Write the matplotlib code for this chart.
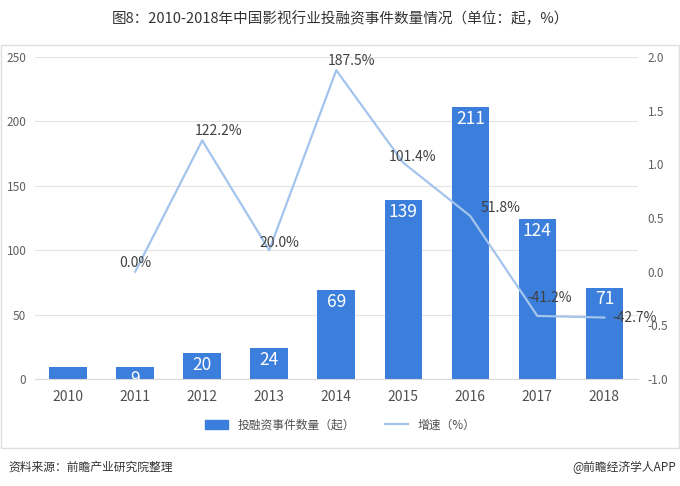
import numpy as np
import matplotlib
matplotlib.use('Agg')
import matplotlib.pyplot as plt
from matplotlib.patches import Rectangle
from matplotlib.lines import Line2D

plt.rcParams['font.family'] = ['Noto Sans CJK SC', 'DejaVu Sans']

years = ['2010', '2011', '2012', '2013', '2014', '2015', '2016', '2017', '2018']
counts = [9, 9, 20, 24, 69, 139, 211, 124, 71]
growth_years = ['2011', '2012', '2013', '2014', '2015', '2016', '2017', '2018']
growth = [0.0, 1.222, 0.200, 1.875, 1.014, 0.518, -0.412, -0.427]
growth_labels = ['0.0%', '122.2%', '20.0%', '187.5%', '101.4%', '51.8%', '-41.2%', '-42.7%']

bar_color = '#3C7EDB'
line_color = '#A3C4EC'
text_color = '#404040'

fig = plt.figure(figsize=(6.8, 4.86), dpi=100)
fig.patch.set_facecolor('white')

# outer frame of the chart
fig.patches.append(Rectangle((0.002, 1 - 448 / 486), 0.996, (448 - 45) / 486,
                             transform=fig.transFigure, fill=False,
                             edgecolor='#E0E0E0', linewidth=1.0))

ax = fig.add_axes([0.051, 0.22, 0.887, 0.663])
x = np.arange(len(years))
bars = ax.bar(x, counts, width=0.56, color=bar_color, zorder=2)
ax.set_ylim(0, 250)
ax.set_yticks(np.arange(0, 251, 50))
ax.set_xlim(-0.5, len(years) - 0.5)
ax.set_xticks(x)
ax.set_xticklabels(years, fontsize=10, color='#505050')
ax.tick_params(axis='y', labelsize=8.5, labelcolor='#606060', length=0, pad=6)
ax.tick_params(axis='x', length=0, pad=8)
ax.grid(axis='y', color='#E4E4E4', linewidth=0.8, zorder=0)
for s in ['top', 'right', 'left']:
    ax.spines[s].set_visible(False)
ax.spines['bottom'].set_color('#D9D9D9')

for i, (b, v) in enumerate(zip(bars, counts)):
    if i == 0:
        continue
    ax.text(b.get_x() + b.get_width() / 2, v - 2, str(v), ha='center', va='top',
            color='white', fontsize=12.5, zorder=4)

ax2 = ax.twinx()
gx = [years.index(y) for y in growth_years]
ax2.plot(gx, growth, color=line_color, linewidth=1.6, zorder=3)
ax2.set_ylim(-1.0, 2.0)
ax2.set_yticks(np.arange(-1.0, 2.01, 0.5))
ax2.set_yticklabels(['%.1f' % t for t in np.arange(-1.0, 2.01, 0.5)])
ax2.tick_params(axis='y', labelsize=8.5, labelcolor='#606060', length=0, pad=7)
for s in ['top', 'right', 'left', 'bottom']:
    ax2.spines[s].set_visible(False)

# label offsets in points (dx, dy)
offsets = [(0, 6), (12, 7), (7, 5), (11, 6.5), (6.5, 4.5), (22, 6), (9, 13), (22, 0)]
for xi, v, lab, (dx, dy) in zip(gx, growth, growth_labels, offsets):
    ax2.annotate(lab, (xi, v), xytext=(dx, dy), textcoords='offset points',
                 ha='center', va='center', fontsize=10, color=text_color, zorder=5)

fig.text(0.5, 1 - 19 / 486, '图8：2010-2018年中国影视行业投融资事件数量情况（单位：起，%）',
         ha='center', va='center', fontsize=10.5, color='#333333')

handles = [Rectangle((0, 0), 1, 1, color=bar_color),
           Line2D([0], [0], color=line_color, linewidth=1.6)]
fig.legend(handles, ['投融资事件数量（起）', '增速（%）'], loc='center',
           bbox_to_anchor=(0.5, 1 - 425 / 486), ncol=2, frameon=False,
           fontsize=8.5, handlelength=2.0, handleheight=0.7, columnspacing=2.5,
           labelcolor='#505050')

fig.text(0.012, 1 - 467 / 486, '资料来源：前瞻产业研究院整理', ha='left', va='center',
         fontsize=8.5, color='#333333', style='italic')
fig.text(0.995, 1 - 467 / 486, '@前瞻经济学人APP', ha='right', va='center',
         fontsize=8.5, color='#333333')

fig.savefig('out.png', dpi=100, facecolor='white')
